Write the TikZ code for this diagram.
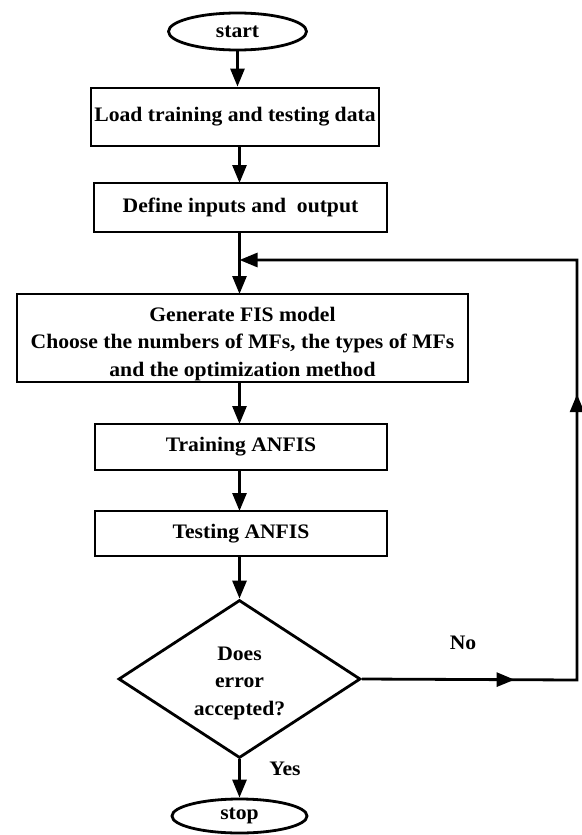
\documentclass[tikz,border=0pt]{standalone}
\usepackage{fontspec}
\setmainfont{Liberation Serif}[FakeStretch=1.05]
\usetikzlibrary{shapes.geometric,arrows.meta,decorations.markings}
\tikzset{mytri/.tip={Triangle[length=18pt,width=14pt]}}
\begin{document}
\begin{tikzpicture}[x=1pt,y=-1pt,
  every node/.style={font=\fontsize{20.6}{27.5}\selectfont\bfseries},
  ln/.style={line width=2.8pt},
  boxnode/.style={draw,ln,rectangle,inner sep=0pt,align=center},
  term/.style={draw,ln,ellipse,inner sep=0pt},
  arr/.style={ln,-mytri}]
\useasboundingbox (0,0) rectangle (581,835);
\node[term,minimum width=138,minimum height=37] (start) at (237.5,31.5) {start};
\node[boxnode,minimum width=288,minimum height=58] (load) at (235,117) {Load training and testing data};
\node[boxnode,minimum width=293,minimum height=49] (define) at (240.5,207.5) {Define inputs and\ \ output};
\node[boxnode,minimum width=451,minimum height=88] (gen) at (242.5,338) {\rule{0pt}{26pt}Generate FIS model\\Choose the numbers of MFs, the types of MFs\\and the optimization method};
\node[boxnode,minimum width=292,minimum height=46] (train) at (241,447) {Training ANFIS};
\node[boxnode,minimum width=292,minimum height=45] (test) at (241,533.5) {Testing ANFIS};
\node[draw,ln,diamond,minimum width=242,minimum height=158,inner sep=0pt] (dec) at (239.5,679) {};
\node[align=center] (dectext) at (239.5,683) {Does\\error\\accepted?};
\node[term,minimum width=135,minimum height=34] (stop) at (239.5,816) {stop};
\node (no) at (463,643) {No};
\node (yes) at (285,769) {Yes};
\coordinate (br) at (577,680);
\coordinate (tr) at (577,260);
\coordinate (jn) at (239.5,260);
\draw[arr] (start.south) -- (start.south |- load.north);
\draw[arr] (239.5,146) -- (239.5,183);
\draw[arr] (239.5,232) -- (239.5,294);
\draw[arr] (239.5,382) -- (239.5,424);
\draw[arr] (239.5,470) -- (239.5,511);
\draw[arr] (239.5,556) -- (dec.north);
\draw[arr] (dec.south) -- (stop.north);
\draw[arr,postaction={decorate},decoration={markings,
  mark=at position 0.157 with {\arrow{mytri}},
  mark=at position 0.515 with {\arrow{mytri}}}]
  (dec.east) -- (br) -- (tr) -- (jn);
\end{tikzpicture}
\end{document}
